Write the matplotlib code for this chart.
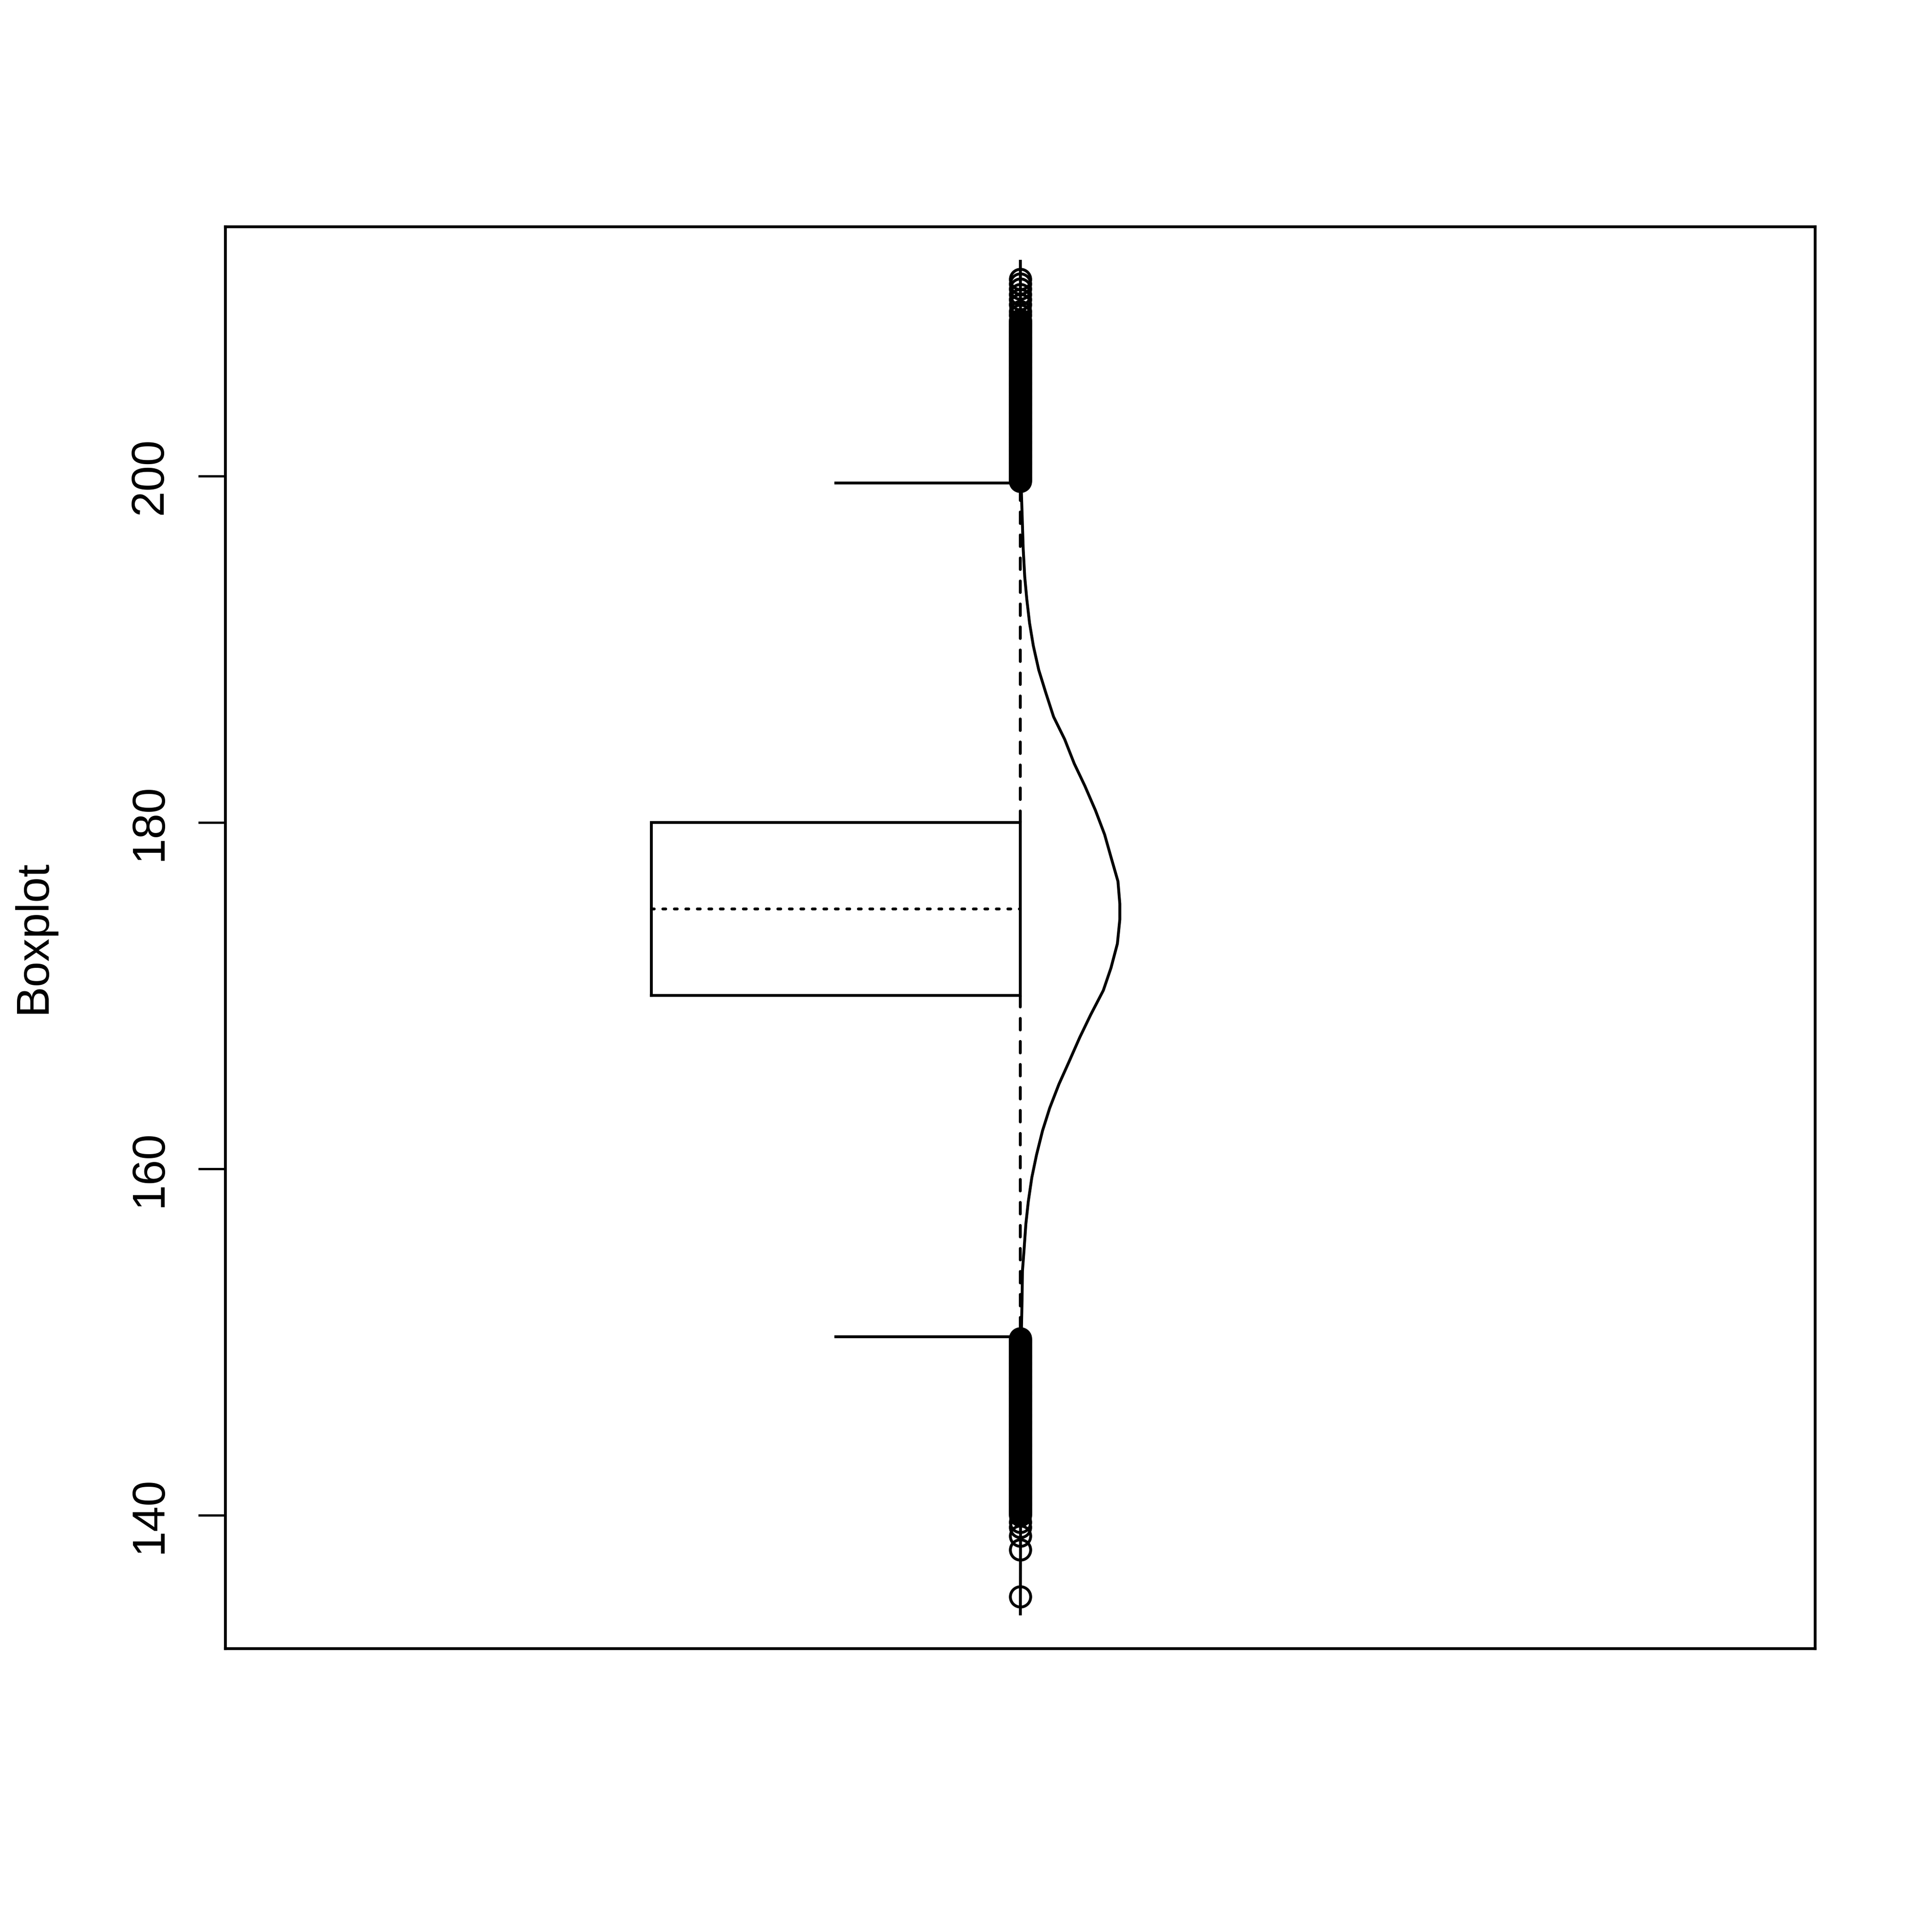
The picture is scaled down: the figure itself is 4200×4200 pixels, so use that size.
import matplotlib
matplotlib.use("Agg")
import matplotlib.pyplot as plt

plt.rcParams["font.family"] = ["Liberation Sans", "DejaVu Sans"]

# box statistics
q1, median, q3 = 170.0, 175.0, 180.0
whisker_low, whisker_high = 150.3, 199.6

# outliers (dense clusters are drawn one circle per 0.1)
outliers_high = [
    199.7, 199.8, 199.9, 200.0, 200.1, 200.2, 200.3, 200.4, 200.5, 200.6,
    200.7, 200.8, 200.9, 201.0, 201.1, 201.2, 201.3, 201.4, 201.5, 201.6,
    201.7, 201.8, 201.9, 202.0, 202.1, 202.2, 202.3, 202.4, 202.5, 202.6,
    202.7, 202.8, 202.9, 203.0, 203.1, 203.2, 203.3, 203.4, 203.5, 203.6,
    203.7, 203.8, 203.9, 204.0, 204.1, 204.2, 204.3, 204.4, 204.5, 204.6,
    204.7, 204.8, 204.9, 205.0, 205.1, 205.2, 205.3, 205.4, 205.5, 205.6,
    205.7, 205.8, 205.9, 206.0, 206.1, 206.2, 206.3, 206.4, 206.5, 206.6,
    206.7, 206.8, 206.9, 207.0, 207.1, 207.2, 207.3, 207.4, 207.5, 207.6,
    207.7, 207.8, 207.9, 208.0, 208.1, 208.2, 208.3, 208.4, 208.5, 208.6,
    208.7, 208.8, 208.9, 209.0, 209.3, 209.5, 209.9, 210.2, 210.5, 210.8,
    211.1, 211.35,
]
outliers_low = [
    135.3, 138.0, 138.8, 139.3, 139.6,
    140.0, 140.1, 140.2, 140.3, 140.4, 140.5, 140.6, 140.7, 140.8, 140.9,
    141.0, 141.1, 141.2, 141.3, 141.4, 141.5, 141.6, 141.7, 141.8, 141.9,
    142.0, 142.1, 142.2, 142.3, 142.4, 142.5, 142.6, 142.7, 142.8, 142.9,
    143.0, 143.1, 143.2, 143.3, 143.4, 143.5, 143.6, 143.7, 143.8, 143.9,
    144.0, 144.1, 144.2, 144.3, 144.4, 144.5, 144.6, 144.7, 144.8, 144.9,
    145.0, 145.1, 145.2, 145.3, 145.4, 145.5, 145.6, 145.7, 145.8, 145.9,
    146.0, 146.1, 146.2, 146.3, 146.4, 146.5, 146.6, 146.7, 146.8, 146.9,
    147.0, 147.1, 147.2, 147.3, 147.4, 147.5, 147.6, 147.7, 147.8, 147.9,
    148.0, 148.1, 148.2, 148.3, 148.4, 148.5, 148.6, 148.7, 148.8, 148.9,
    149.0, 149.1, 149.2, 149.3, 149.4, 149.5, 149.6, 149.7, 149.8, 149.9,
    150.0, 150.1, 150.2,
]

# density curve drawn to the right of the box
dens_x = [134.3, 140.0, 145.0, 148.0, 150.9, 152.5, 154.1, 155.4, 156.8, 158.1,
          159.5, 160.8, 162.2, 163.5, 164.9, 166.2, 167.6, 168.9, 170.3, 171.6,
          173.0, 174.4, 175.3, 176.6, 178.0, 179.3, 180.7, 182.1, 183.4, 184.8,
          186.1, 187.5, 188.8, 190.2, 191.5, 192.9, 194.2, 195.8, 199.2, 203.0,
          207.0, 212.4]
dens_y = [0.0, 0.0001, 0.0002, 0.0004, 0.0006, 0.0009, 0.0011, 0.0020, 0.0029, 0.0042,
          0.0061, 0.0086, 0.0118, 0.0156, 0.0206, 0.0260, 0.0317, 0.0375, 0.0442, 0.0483,
          0.0517, 0.0530, 0.0530, 0.0520, 0.0483, 0.0449, 0.0400, 0.0344, 0.0287, 0.0236,
          0.0177, 0.0135, 0.0098, 0.0069, 0.0049, 0.0034, 0.0023, 0.0015, 0.0005, 0.0002,
          0.0001, 0.0]

ylabel = "Boxplot"
yticks = [140, 160, 180, 200]

pos = 1.0          # box position
half_box = 0.232   # box drawn on left side only
half_staple = 0.116
dens_scale = 1.18

fig = plt.figure(figsize=(7, 7), dpi=600)
ax = fig.add_axes([0.1167, 0.1467, 0.8229, 0.7360])
lw = 0.75

# half box
ax.plot([pos - half_box, pos, pos, pos - half_box, pos - half_box],
        [q1, q1, q3, q3, q1], color="black", lw=lw, solid_joinstyle="miter")
ax.plot([pos - half_box, pos], [median, median], color="black", lw=lw,
        linestyle=(0, (1, 3)), dash_capstyle="round")

# whiskers and staples
ax.plot([pos, pos], [q3, whisker_high], color="black", lw=lw,
        linestyle=(0, (4, 4)), dash_capstyle="round")
ax.plot([pos, pos], [q1, whisker_low], color="black", lw=lw,
        linestyle=(0, (4, 4)), dash_capstyle="round")
ax.plot([pos - half_staple, pos], [whisker_high, whisker_high], color="black", lw=lw)
ax.plot([pos - half_staple, pos], [whisker_low, whisker_low], color="black", lw=lw)

# outliers
outs = outliers_low + outliers_high
ax.plot([pos] * len(outs), outs, linestyle="none", marker="o", markersize=5.3,
        markerfacecolor="none", markeredgecolor="black", markeredgewidth=lw)

# density
ax.plot([pos + d * dens_scale for d in dens_y], dens_x, color="black", lw=lw,
        solid_joinstyle="round")

ax.set_xlim(0.5, 1.5)
ax.set_ylim(132.3, 214.4)
ax.set_xticks([])
ax.set_yticks(yticks)
ax.set_yticklabels([str(t) for t in yticks], rotation=90, va="center", fontsize=12)
ax.tick_params(axis="y", length=7.1, width=0.6, pad=7)
for s in ax.spines.values():
    s.set_linewidth(lw)

fig.text(0.0174, 0.5152, ylabel, rotation=90, ha="center", va="center", fontsize=12)

fig.savefig("out.png", dpi=600, facecolor="white")
